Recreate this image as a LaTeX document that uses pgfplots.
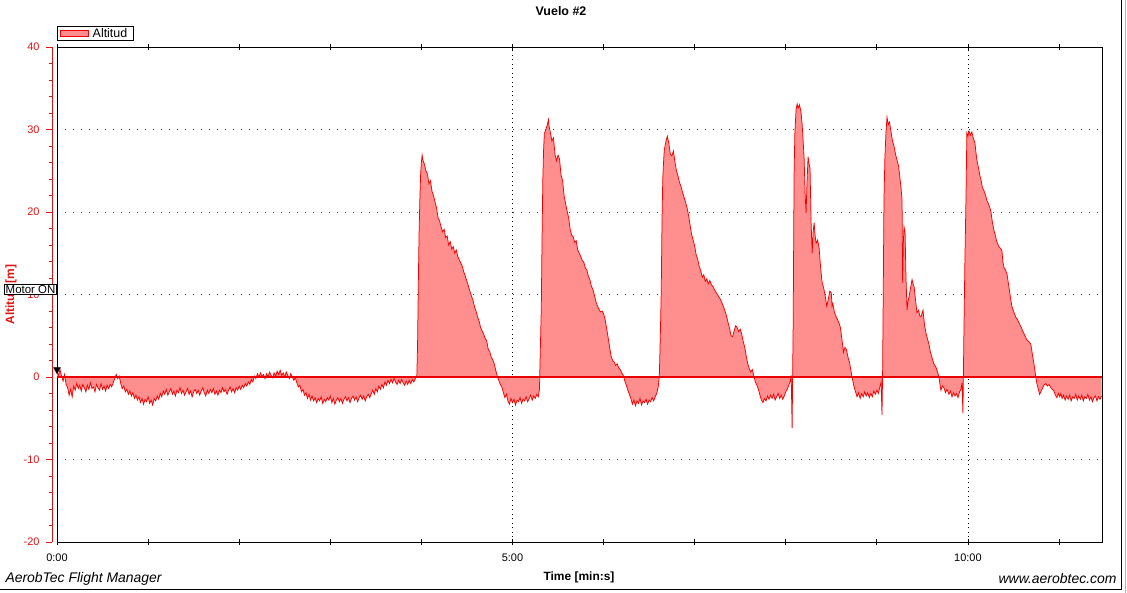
\documentclass[border=0pt]{standalone}
\usepackage{pgfplots}
\pgfplotsset{compat=1.18}
\usepackage{pgfplotstable}
\usepackage{fontspec}
\setmainfont{Liberation Sans}
\definecolor{fillred}{RGB}{255,142,142}
\definecolor{linered}{RGB}{245,0,0}
\definecolor{zerored}{RGB}{235,0,0}
\definecolor{gridred}{RGB}{200,20,20}
\definecolor{tickred}{RGB}{225,20,20}

\pgfplotstableread[row sep=\\]{
t y\\
0 0.6\\ 1 0.2\\ 2 0.9\\ 3 0.1\\ 4 -0.5\\ 5 0.3\\ 6 -0.9\\ 7 -1.3\\ 8 -2.2\\ 9 -1.5\\ 10 -2.4\\
11 -1.1\\ 12 -1.6\\ 13 -0.8\\ 14 -1.4\\ 15 -1.0\\ 16 -1.7\\ 17 -0.9\\ 18 -1.3\\ 19 -1.8\\ 20 -1.0\\
21 -1.5\\ 22 -0.7\\ 23 -1.4\\ 24 -1.2\\ 25 -1.8\\ 26 -0.9\\ 27 -1.3\\ 28 -1.6\\ 29 -0.8\\ 30 -1.5\\
31 -1.1\\ 32 -1.7\\ 33 -1.0\\ 34 -1.4\\ 35 -0.9\\ 36 -1.2\\ 37 -0.7\\ 38 -0.2\\ 39 0.3\\ 40 -0.2\\
41 0.1\\ 42 -0.8\\ 43 -1.4\\ 44 -1.1\\ 45 -1.8\\ 46 -1.5\\ 47 -2.1\\ 48 -1.7\\ 49 -2.3\\ 50 -1.9\\
51 -2.6\\ 52 -2.2\\ 53 -2.8\\ 54 -2.4\\ 55 -3.1\\ 56 -2.6\\ 57 -3.3\\ 58 -2.7\\ 59 -3.0\\ 60 -2.4\\
61 -3.2\\ 62 -2.8\\ 63 -3.4\\ 64 -2.6\\ 65 -2.9\\ 66 -2.3\\ 67 -2.7\\ 68 -2.0\\ 69 -2.4\\ 70 -1.7\\
71 -2.1\\ 72 -1.5\\ 73 -2.2\\ 74 -1.8\\ 75 -1.4\\ 76 -2.1\\ 77 -1.7\\ 78 -2.3\\ 79 -1.6\\ 80 -1.9\\
81 -1.3\\ 82 -2.0\\ 83 -1.6\\ 84 -2.2\\ 85 -1.8\\ 86 -1.4\\ 87 -2.1\\ 88 -1.7\\ 89 -2.4\\ 90 -1.8\\
91 -1.5\\ 92 -2.0\\ 93 -1.6\\ 94 -2.2\\ 95 -1.7\\ 96 -1.3\\ 97 -1.9\\ 98 -2.3\\ 99 -1.6\\ 100 -2.0\\
101 -1.5\\ 102 -1.9\\ 103 -1.4\\ 104 -2.1\\ 105 -1.7\\ 106 -2.2\\ 107 -1.6\\ 108 -1.9\\ 109 -1.3\\ 110 -1.8\\
111 -1.5\\ 112 -2.1\\ 113 -1.6\\ 114 -1.2\\ 115 -1.8\\ 116 -1.4\\ 117 -1.9\\ 118 -1.3\\ 119 -1.6\\ 120 -1.1\\
121 -1.5\\ 122 -1.0\\ 123 -1.3\\ 124 -0.8\\ 125 -1.1\\ 126 -0.6\\ 127 -0.9\\ 128 -0.3\\ 129 -0.6\\ 130 0.1\\
131 -0.2\\ 132 0.4\\ 133 0.0\\ 134 0.5\\ 135 0.1\\ 136 0.3\\ 137 -0.2\\ 138 0.4\\ 139 0.0\\ 140 0.6\\
141 0.2\\ 142 -0.1\\ 143 0.5\\ 144 0.1\\ 145 0.7\\ 146 0.3\\ 147 0.8\\ 148 0.2\\ 149 0.5\\ 150 0.0\\
151 0.6\\ 152 0.2\\ 153 -0.2\\ 154 0.4\\ 155 0.0\\ 156 -0.4\\ 157 -0.1\\ 158 -0.7\\ 159 -1.2\\ 160 -1.0\\
161 -1.8\\ 162 -1.5\\ 163 -2.2\\ 164 -1.9\\ 165 -2.6\\ 166 -2.1\\ 167 -2.8\\ 168 -2.3\\ 169 -2.9\\ 170 -2.5\\
171 -3.1\\ 172 -2.6\\ 173 -2.9\\ 174 -2.4\\ 175 -3.2\\ 176 -2.7\\ 177 -3.0\\ 178 -2.5\\ 179 -2.8\\ 180 -2.3\\
181 -3.1\\ 182 -2.6\\ 183 -3.3\\ 184 -2.8\\ 185 -2.5\\ 186 -3.0\\ 187 -2.6\\ 188 -3.2\\ 189 -2.7\\ 190 -2.4\\
191 -2.9\\ 192 -2.5\\ 193 -3.1\\ 194 -2.6\\ 195 -2.3\\ 196 -2.8\\ 197 -2.4\\ 198 -3.0\\ 199 -2.5\\ 200 -2.2\\
201 -2.7\\ 202 -2.3\\ 203 -2.9\\ 204 -2.4\\ 205 -2.1\\ 206 -2.5\\ 207 -2.0\\ 208 -1.6\\ 209 -2.1\\ 210 -1.4\\
211 -1.8\\ 212 -1.1\\ 213 -1.5\\ 214 -0.9\\ 215 -1.3\\ 216 -0.6\\ 217 -1.0\\ 218 -0.4\\ 219 -0.8\\ 220 -0.3\\
221 -0.7\\ 222 -0.2\\ 223 -0.6\\ 224 -0.9\\ 225 -0.4\\ 226 -0.8\\ 227 -0.3\\ 228 -0.7\\ 229 -1.0\\ 230 -0.5\\
231 -0.9\\ 232 -0.4\\ 233 -0.8\\ 234 -0.3\\ 235 -0.6\\ 236 -0.2\\ 237 0.0\\
237.5 4.0\\ 238 11.5\\ 238.5 17.5\\ 239 21.5\\ 239.5 24.5\\ 240 26.0\\ 240.5 26.9\\ 241 26.3\\ 242 25.8\\ 243 25.0\\
244 24.6\\ 245 23.4\\ 246 23.8\\ 247 22.5\\ 248 22.0\\ 249 21.2\\ 250 20.5\\ 251 19.3\\ 252 18.9\\ 253 18.2\\
254 17.6\\ 255 17.9\\ 256 16.9\\ 257 17.1\\ 258 16.0\\ 259 16.4\\ 260 15.5\\ 261 15.8\\ 262 15.0\\ 263 15.4\\
264 14.6\\ 265 14.2\\ 266 13.8\\ 267 13.4\\ 268 12.7\\ 269 12.2\\ 270 11.6\\ 271 11.0\\ 272 10.4\\ 273 9.8\\
274 9.3\\ 275 8.5\\ 276 8.0\\ 277 7.3\\ 278 6.8\\ 279 6.0\\ 280 5.6\\ 281 5.2\\ 282 4.7\\ 283 4.4\\
284 3.4\\ 285 3.1\\ 286 2.4\\ 287 2.1\\ 288 1.6\\ 289 0.8\\ 290 0.1\\ 291 -0.4\\ 292 -0.9\\ 293 -1.2\\
294 -1.9\\ 295 -2.5\\ 296 -2.1\\ 297 -2.9\\ 298 -3.3\\ 299 -2.6\\ 300 -3.1\\ 301 -2.7\\ 302 -3.4\\ 303 -2.8\\
304 -3.0\\ 305 -2.5\\ 306 -3.2\\ 307 -2.7\\ 308 -2.9\\ 309 -2.4\\ 310 -3.0\\ 311 -2.6\\ 312 -2.2\\ 313 -2.8\\
314 -2.3\\ 315 -2.6\\ 316 -2.1\\ 317 -2.4\\ 317.8 -1.5\\
318 0.5\\ 318.5 4.5\\ 319 8.5\\ 319.5 17.0\\ 320 24.0\\ 320.5 27.5\\ 321 29.5\\ 322 30.0\\ 323 30.6\\ 323.7 31.2\\
324 30.5\\ 325 29.6\\ 326 28.6\\ 327 29.0\\ 328 27.0\\ 329 26.2\\ 330 26.9\\ 331 26.4\\ 332 24.5\\ 333 23.8\\
334 22.0\\ 335 21.0\\ 336 20.1\\ 337 19.3\\ 338 17.9\\ 339 17.2\\ 340 17.0\\ 341 16.3\\ 342 16.5\\ 343 15.4\\
344 15.0\\ 345 14.6\\ 346 14.1\\ 347 13.9\\ 348 13.2\\ 349 13.0\\ 350 12.2\\ 351 11.8\\ 352 11.0\\ 353 10.6\\
354 9.9\\ 355 9.1\\ 356 8.6\\ 357 8.2\\ 358 7.9\\ 359 8.0\\ 360 7.7\\ 361 7.0\\ 362 5.9\\ 363 4.8\\
364 3.6\\ 365 2.5\\ 366 2.0\\ 367 1.8\\ 368 1.4\\ 369 1.6\\ 370 1.1\\ 371 0.9\\ 372 0.5\\ 373 0.2\\
374 -0.5\\ 375 -1.0\\ 376 -1.6\\ 377 -2.1\\ 378 -2.6\\ 379 -3.3\\ 380 -2.8\\ 381 -3.5\\ 382 -2.9\\ 383 -3.2\\
384 -2.6\\ 385 -3.4\\ 386 -2.9\\ 387 -3.1\\ 388 -2.7\\ 389 -3.3\\ 390 -2.8\\ 391 -3.0\\ 392 -2.5\\ 393 -2.9\\
394 -2.4\\ 395 -2.0\\ 396 -1.2\\ 396.7 0.0\\
397 2.0\\ 397.5 6.0\\ 398 10.5\\ 398.5 19.0\\ 399 24.0\\ 399.5 26.0\\ 400 27.5\\ 401 28.5\\ 402 29.2\\ 403 28.3\\
404 27.0\\ 405 26.8\\ 406 27.4\\ 407 26.1\\ 408 25.0\\ 409 24.4\\ 410 23.6\\ 411 23.1\\ 412 22.4\\ 413 21.8\\
414 21.2\\ 415 20.5\\ 416 19.6\\ 417 18.4\\ 418 17.3\\ 419 16.6\\ 420 15.9\\ 421 14.8\\ 422 14.3\\ 423 13.4\\
424 12.9\\ 425 12.1\\ 426 12.4\\ 427 11.6\\ 428 11.9\\ 429 11.3\\ 430 11.7\\ 431 11.2\\ 432 11.0\\ 433 10.6\\
434 10.3\\ 435 10.0\\ 436 9.7\\ 437 9.4\\ 438 9.0\\ 439 8.5\\ 440 8.0\\ 441 7.4\\ 442 6.6\\ 443 5.9\\
444 5.0\\ 445 4.9\\ 446 5.6\\ 447 6.2\\ 448 6.0\\ 449 5.5\\ 450 5.8\\ 451 5.2\\ 452 4.3\\ 453 3.6\\
454 2.5\\ 455 1.6\\ 456 1.0\\ 457 0.6\\ 458 0.9\\ 459 0.1\\ 460 -0.6\\ 461 -1.0\\ 462 -1.5\\ 463 -2.2\\
464 -2.8\\ 465 -3.1\\ 466 -2.6\\ 467 -2.9\\ 468 -2.3\\ 469 -2.7\\ 470 -2.2\\ 471 -2.6\\ 472 -2.1\\ 473 -2.8\\
474 -2.4\\ 475 -2.0\\ 476 -2.6\\ 477 -2.2\\ 478 -2.7\\ 479 -2.3\\ 480 -1.8\\ 481 -1.5\\ 482 -1.0\\ 483 -0.5\\
483.6 0.2\\ 484.2 -6.2\\
484.9 6.5\\ 485.5 24.7\\ 486 29.5\\ 486.8 32.4\\ 487.5 33.1\\ 488.2 32.6\\ 489 33.0\\ 490 32.2\\ 490.8 30.6\\ 491.5 28.5\\
492.1 26.5\\ 492.8 22.0\\ 493.4 19.9\\ 494 23.5\\ 494.7 26.7\\ 495.4 25.8\\ 496 25.3\\ 496.7 18.7\\ 497.4 15.0\\ 498 17.5\\
498.7 18.7\\ 499.3 17.2\\ 500 16.2\\ 501 16.6\\ 502 15.6\\ 503 13.2\\ 504 11.4\\ 505 10.8\\ 506 9.8\\ 507 8.6\\
508 9.4\\ 509 10.4\\ 510 10.2\\ 510.5 8.6\\ 511 8.9\\ 512 7.9\\ 513 7.4\\ 514 7.0\\ 515 6.6\\ 516 6.0\\
517 4.6\\ 518 3.0\\ 519 3.6\\ 520 3.3\\ 521 2.4\\ 522 1.8\\ 523 0.7\\ 524 -0.3\\ 525 -1.2\\ 526 -1.8\\
527 -2.4\\ 528 -1.9\\ 529 -2.6\\ 530 -2.0\\ 531 -2.4\\ 532 -1.8\\ 533 -2.3\\ 534 -1.9\\ 535 -2.5\\ 536 -2.0\\
537 -2.4\\ 538 -1.7\\ 539 -2.1\\ 540 -1.6\\ 541 -2.0\\ 542 -1.2\\ 542.8 -0.6\\ 543.4 -4.6\\
543.8 0.5\\ 544.3 12.0\\ 544.7 21.5\\ 545.3 26.5\\ 546 29.6\\ 546.7 31.5\\ 547.5 30.6\\ 548.3 30.9\\ 549.3 29.8\\ 550.3 28.6\\
551.3 28.0\\ 552.3 27.0\\ 553.3 26.3\\ 554.3 25.6\\ 555.3 24.0\\ 556 22.8\\ 556.6 21.5\\ 557 11.4\\ 557.5 16.5\\ 557.9 18.2\\
558.6 17.5\\ 559.2 12.0\\ 559.9 8.1\\ 560.5 9.2\\ 561.2 9.7\\ 562.2 10.8\\ 563.2 11.8\\ 564 11.2\\ 564.5 11.0\\ 565.5 9.3\\
566.4 7.8\\ 567.5 8.1\\ 568.3 7.4\\ 569.1 7.3\\ 570.4 8.1\\ 571.4 6.3\\ 572.4 5.3\\ 573.4 4.6\\ 574.3 4.0\\ 575.3 3.0\\
576.3 2.4\\ 577.5 1.6\\ 578.9 1.2\\ 580 0.6\\ 580.9 0.0\\ 581.6 -0.9\\ 582.2 -1.6\\ 583.2 -1.1\\ 584.2 -1.3\\ 585.2 -1.9\\
586.2 -1.5\\ 587.5 -2.1\\ 588.5 -1.7\\ 589.5 -2.4\\ 590.5 -1.9\\ 591.5 -2.3\\ 592.5 -2.0\\ 593.5 -2.5\\ 594.5 -1.8\\ 595.4 -1.5\\
596.1 -0.7\\ 596.7 -4.4\\
597 0.0\\ 597.4 6.1\\ 598 14.0\\ 598.7 21.5\\ 599.3 29.6\\ 600 29.2\\ 600.7 29.8\\ 601.6 29.3\\ 602.6 29.7\\ 603.6 28.9\\
604.6 28.4\\ 605.3 27.2\\ 605.9 26.3\\ 607 25.3\\ 608 24.3\\ 608.6 23.9\\ 609.5 23.0\\ 610.5 22.6\\ 611.5 22.1\\ 612.5 21.4\\
613.5 21.0\\ 614.3 20.6\\ 615.1 20.1\\ 616 18.9\\ 617.1 17.8\\ 618 17.2\\ 619 16.4\\ 620.4 15.8\\ 621.4 15.6\\ 622.4 15.3\\
623 14.0\\ 623.7 13.3\\ 624.7 13.0\\ 625.7 12.5\\ 626.7 11.3\\ 627.8 9.9\\ 628.9 8.6\\ 630 8.0\\ 631 7.5\\ 631.6 7.2\\
632.6 7.0\\ 633.8 6.5\\ 634.9 6.1\\ 635.8 5.7\\ 636.8 5.3\\ 637.8 4.9\\ 638.8 4.5\\ 640 4.3\\ 641.4 4.0\\ 642.4 2.8\\
643.4 1.7\\ 644.1 0.8\\ 644.7 0.0\\ 645.4 -0.8\\ 646.4 -1.5\\ 647.2 -2.1\\ 648 -1.8\\ 649 -1.4\\ 650 -1.0\\ 651.3 -0.8\\
652.3 -1.1\\ 653.3 -0.9\\ 654.6 -1.3\\ 655.6 -1.5\\ 656.6 -1.7\\ 657.6 -2.2\\ 658.6 -2.5\\ 659.6 -2.0\\ 660.5 -2.4\\ 661.2 -2.0\\
662 -2.6\\ 663 -2.2\\ 664 -2.8\\ 665 -2.3\\ 666 -2.7\\ 667 -2.2\\ 668 -2.9\\ 669 -2.4\\ 670 -2.6\\ 671 -2.1\\
672 -2.8\\ 673 -2.3\\ 674 -2.7\\ 675 -2.2\\ 676 -2.9\\ 677 -2.4\\ 678 -2.6\\ 679 -2.1\\ 680 -2.8\\ 681 -2.4\\
682 -3.0\\ 683 -2.5\\ 684 -2.3\\ 685 -2.9\\ 686 -2.4\\ 687 -2.7\\ 688 -2.3\\
}\altdata

\pgfplotstableread[row sep=\\]{
t y\\
0 0\\ 688.3 0\\
}\zeroline

\begin{document}
\begin{tikzpicture}
\useasboundingbox (0,0) rectangle (1127bp,593bp);
\fill[white] (0,0) rectangle (1127bp,593bp);

% red offset y axis with ticks
\begin{axis}[
  at={(52bp,51bp)}, anchor=south west, scale only axis,
  width=1045bp, height=495bp,
  xmin=0, xmax=1, ymin=-20, ymax=40,
  axis x line=none, axis y line=left,
  y axis line style={-, tickred, line width=0.8bp},
  ytick={-20,-10,...,40}, minor y tick num=4,
  tick align=outside, major tick length=6bp, minor tick length=3bp,
  ytick style={tickred, line width=0.8bp},
  minor y tick style={tickred, line width=0.8bp},
  yticklabel style={tickred, font=\fontsize{11}{12}\selectfont, xshift=-3bp},
  /pgf/number format/assume math mode=true,
]
\end{axis}

\begin{axis}[
  at={(57bp,51bp)}, anchor=south west, scale only axis,
  width=1045bp, height=495bp,
  xmin=0, xmax=688.3, ymin=-20, ymax=40,
  clip=false,
  axis line style={black, line width=0.8bp},
  xtick={0,60,...,660},
  xticklabels={0:00,,,,,5:00,,,,,10:00,},
  xtick pos=both,
  tick align=center, major tick length=6bp,
  xtick style={black, line width=0.8bp},
  xticklabel style={font=\fontsize{11}{12}\selectfont, yshift=-5bp},
  ytick={-10,10,20,30}, yticklabels={},
  ytick style={draw=none},
  ymajorgrids=true,
  major grid style={gridred, line width=0.8bp, dash pattern=on 1bp off 7bp},
  extra x ticks={300,600}, extra x tick labels={},
  extra x tick style={xmajorgrids=true, major grid style={black, line width=0.8bp, dash pattern=on 1bp off 3.5bp}, tick style={draw=none}},
  legend style={at={(0,1)}, anchor=south west, yshift=6bp, draw=black, line width=0.8bp,
    font=\fontsize{12.5}{13}\selectfont, inner xsep=2.5bp, inner ysep=0.5bp,
    nodes={inner xsep=4bp, inner ysep=1.5bp}},
  legend cell align=left,
]
\addplot[fill=fillred, draw=none,
  legend image code/.code={\draw[fill=fillred, draw=linered, line width=0.8bp] (0bp,-2.8bp) rectangle (28bp,2.8bp);}]
  table[x=t, y=y] {\altdata} \closedcycle;
\addlegendentry{Altitud}
\addplot[draw=linered, line width=0.75bp, forget plot] table[x=t, y=y] {\altdata};
\addplot[only marks, mark=triangle*, mark size=4bp, mark options={rotate=180, fill=black, draw=black}, forget plot] coordinates {(0,0.9)};
\addplot[draw=zerored, line width=1.3bp, forget plot] table[x=t, y=y] {\zeroline};
\end{axis}

% texts
\node[font=\bfseries\fontsize{12.5}{14}\selectfont] at (561bp,582bp) {Vuelo \#2};
\node[font=\bfseries\fontsize{12}{14}\selectfont] at (579bp,16bp) {Time [min:s]};
\node[font=\bfseries\fontsize{12}{14}\selectfont, text=tickred, rotate=90] at (11bp,298.5bp) {Altitud [m]};
\node[draw=black, fill=white, line width=0.8bp, inner sep=1.2bp, anchor=east, font=\fontsize{11.5}{13}\selectfont] at (57bp,303.5bp) {Motor ON};
\node[anchor=west, font=\itshape\fontsize{14}{16}\selectfont] at (2bp,14bp) {AerobTec Flight Manager};
\node[anchor=east, font=\itshape\fontsize{14}{16}\selectfont] at (1120bp,14bp) {www.aerobtec.com};
% outer frame
\draw[black, line width=0.8bp] (0,4bp) -- (1121bp,4bp) -- (1121bp,593bp);
\draw[gray!60, line width=0.8bp] (1125bp,0) -- (1125bp,593bp);
\end{tikzpicture}
\end{document}
